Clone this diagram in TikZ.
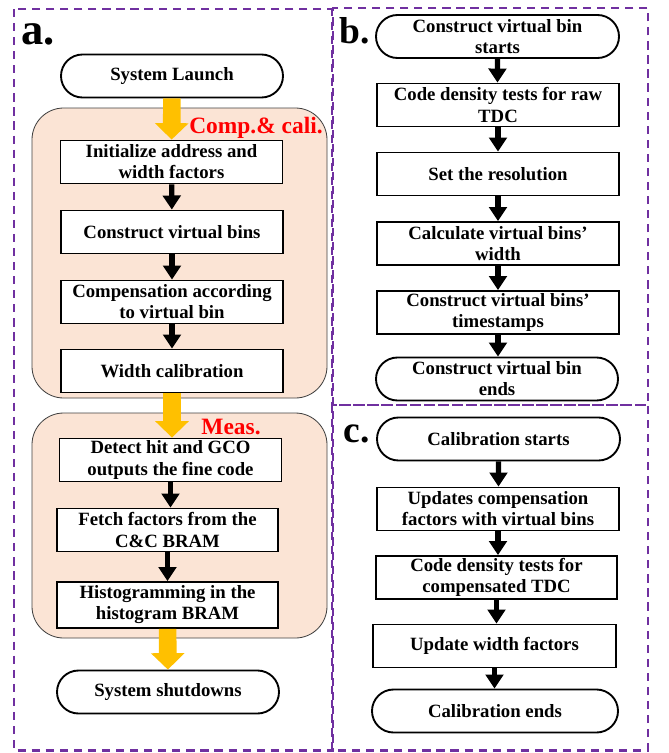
\documentclass[tikz,border=0pt]{standalone}
\usepackage{fontspec}
\setmainfont{Liberation Serif}
\usetikzlibrary{shapes.misc,arrows.meta}
\definecolor{peach}{RGB}{251,228,213}
\definecolor{gold}{RGB}{255,192,0}
\definecolor{panelviolet}{RGB}{112,48,160}
\tikzset{
	proc/.style={draw,line width=1.6pt,fill=white,minimum width=6.66cm,minimum height=1.29cm,inner sep=0pt,align=center,font=\bfseries\fontsize{16}{18}\selectfont},
	term/.style={proc,rounded rectangle},
	stage/.style={draw=black!75,fill=peach,line width=0.7pt,rounded corners=0.95cm},
	flow/.style={-{Triangle[width=15pt,length=12pt]},line width=4.5pt},
	bigflow/.style={-{Triangle[width=28pt,length=14pt]},line width=15pt,draw=gold},
	panel/.style={draw=panelviolet,line width=2.4pt,dash pattern=on 7pt off 5pt},
	tag/.style={font=\bfseries\fontsize{32}{32}\selectfont},
	stagename/.style={text=red,font=\bfseries\fontsize{20}{20}\selectfont}
}
\begin{document}
\begin{tikzpicture}[x=0.03cm,y=-0.03cm]
		\useasboundingbox (0,0) rectangle (668,753);
		\draw[panel] (14,9) rectangle (333,750.5);
		\draw[panel] (332,8) rectangle (648,405);
		\draw[panel] (332,405) rectangle (648,750.5);
		%a.
		\node[tag,font=\bfseries\fontsize{38}{38}\selectfont] (taga) at (38,34) {a.};
		\draw[stage] (32,108) rectangle (327,398);
		\draw[stage] (32,413) rectangle (327,638);
		\node[term] (launch) at (172,76) {System Launch};
		\node[proc] (init) at (171.5,162) {Initialize address and\\ width factors};
		\node[proc] (vbins) at (172,232) {Construct virtual bins};
		\node[proc] (comp) at (172,302) {Compensation according\\ to virtual bin};
		\node[proc] (widthcal) at (172,371) {Width calibration};
		\node[proc] (detect) at (170.5,460) {Detect hit and GCO\\ outputs the fine code};
		\node[proc,minimum width=6.63cm] (fetch) at (167.5,530) {Fetch factors from the\\ C\&C BRAM};
		\node[proc,minimum width=6.63cm,minimum height=1.38cm] (histo) at (167.5,605) {Histogramming in the\\ histogram BRAM};
		\node[term] (shutdown) at (168,692) {System shutdowns};
		\node[stagename] (compname) at (256,128) {Comp.\& cali.};
		\node[stagename] (measname) at (231,427) {Meas.};
		\draw[bigflow] (launch) -- (init);
		\draw[bigflow] (widthcal) -- (widthcal |- detect.north);
		\draw[bigflow] (histo) -- (shutdown);
		\draw[flow] (init) -- (vbins);
		\draw[flow] (vbins) -- (comp);
		\draw[flow] (comp) -- (widthcal);
		\draw[flow] (detect) -- (detect |- fetch.north);
		\draw[flow] (fetch) -- (histo);
		%b.
		\node[tag] (tagb) at (355,31) {b.};
		\node[term,minimum width=7.29cm] (bstart) at (497.5,36.5) {Construct virtual bin\\ starts};
		\node[proc,minimum width=7.26cm] (braw) at (498,105) {Code density tests for raw\\ TDC};
		\node[proc,minimum width=7.26cm] (bres) at (498,174) {Set the resolution};
		\node[proc,minimum width=7.26cm] (bwidth) at (498,243.5) {Calculate virtual bins'\\ width};
		\node[proc,minimum width=7.26cm] (bstamp) at (498,312.5) {Construct virtual bins’\\ timestamps};
		\node[term,minimum width=7.26cm] (bend) at (497,379) {Construct virtual bin\\ ends};
		\foreach \a/\b in {bstart/braw,braw/bres,bres/bwidth,bwidth/bstamp,bstamp/bend}
		\draw[flow] (\a) -- (\a |- \b.north);
		%c.
		\node[tag] (tagc) at (357,434) {c.};
		\node[term,minimum width=7.29cm] (cstart) at (498.5,439) {Calibration starts};
		\node[proc,minimum width=7.26cm] (cupd) at (498,509) {Updates compensation\\ factors with virtual bins};
		\node[proc,minimum width=7.23cm] (cdens) at (496.5,577.5) {Code density tests for\\ compensated TDC};
		\node[proc,minimum width=7.29cm] (cwf) at (494.5,646) {Update width factors};
		\node[term,minimum width=7.38cm] (cend) at (495,711) {Calibration ends};
		\foreach \a/\b in {cstart/cupd,cupd/cdens,cdens/cwf,cwf/cend}
		\draw[flow] (\a) -- (\a |- \b.north);
\end{tikzpicture}
\end{document}
